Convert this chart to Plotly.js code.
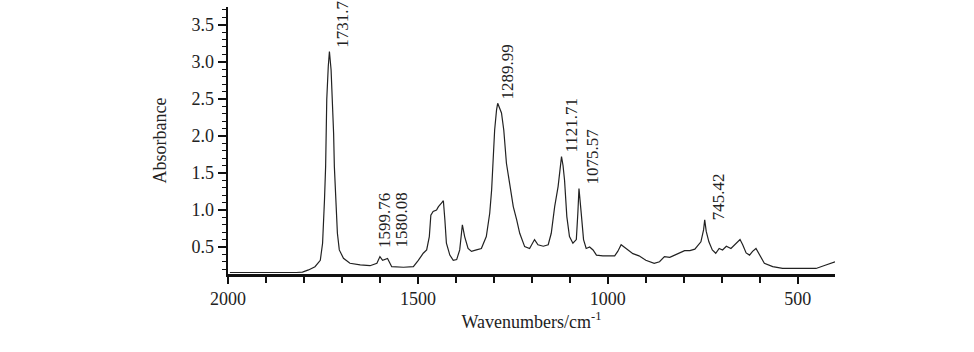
<!DOCTYPE html>
<html>
<head>
<meta charset="utf-8">
<script src="https://cdn.plot.ly/plotly-3.0.1.min.js"></script>
<style>html,body{margin:0;padding:0;background:#fff;}#chart{width:974px;height:352px;}</style>
</head>
<body>
<div id="chart"></div>
<script>
// Wavenumbers (cm^-1) and absorbance
const wavenumbers = [1995,1950,1900,1850,1820,1804,1788,1771,1757,1751,1749,1746,1743,1742,1740,1736,1733,1728.6,1725,1722,1720,1716,1712,1707,1696,1679,1652,1626,1608,1600,1593,1580,1569,1538,1512,1499,1486,1477,1470,1466,1460,1451,1446,1437,1433,1429,1425,1416,1407,1398,1390,1383,1377,1368,1359,1346,1333,1320,1311,1306,1302,1298,1293,1290,1280,1274,1267,1258,1249,1240,1232,1219,1206,1193,1184,1170,1157,1149,1140,1131,1122,1118,1114,1108,1101,1092,1083,1079,1076,1070,1064,1057,1048,1039,1030,1013,982,974,965,952,934,918,900,878,864,851,837,824,811,798,784,771,755,748,745,741,734,725,716,707,698,688,676,663,652,645,636,627,619,610,601,588,566,540,497,452,426,402];
const absorbance = [0.155,0.153,0.153,0.153,0.155,0.16,0.19,0.234,0.32,0.55,0.73,1.135,1.585,2.04,2.49,2.94,3.14,2.89,2.49,2.04,1.585,1.135,0.685,0.46,0.347,0.28,0.257,0.247,0.28,0.37,0.32,0.345,0.234,0.226,0.234,0.32,0.415,0.46,0.64,0.93,0.98,1.0,1.045,1.1,1.125,0.865,0.55,0.39,0.32,0.33,0.46,0.8,0.64,0.48,0.44,0.46,0.48,0.64,0.955,1.27,1.63,2.08,2.35,2.44,2.31,2.08,1.63,1.315,1.045,0.865,0.685,0.505,0.48,0.6,0.53,0.51,0.53,0.685,1.045,1.315,1.72,1.6,1.4,0.91,0.64,0.55,0.6,0.955,1.29,0.95,0.6,0.48,0.5,0.46,0.39,0.38,0.38,0.44,0.53,0.48,0.41,0.38,0.32,0.28,0.3,0.37,0.36,0.39,0.415,0.45,0.45,0.47,0.57,0.73,0.865,0.71,0.57,0.46,0.415,0.48,0.46,0.51,0.48,0.55,0.6,0.53,0.42,0.39,0.44,0.48,0.39,0.28,0.234,0.21,0.21,0.21,0.257,0.3];

// Peak labels
const peakLabels = ["1731.7","1599.76","1580.08","1289.99","1121.71","1075.57","745.42"];
const peakX = [1732,1600,1580,1290,1122,1076,745];
const peakY = [3.14,0.37,0.345,2.44,1.72,1.29,0.865];

// label pixel offsets (style)
const labelShiftX = [13,4,14,10,10,13,14];
const labelShiftY = [2,7,9,2,2,2,-2];

const FONT = "Liberation Serif, Times New Roman, serif";

const trace = {
  x: wavenumbers, y: absorbance, type: 'scatter', mode: 'lines',
  line: {color: '#222', width: 1.2}, hoverinfo: 'skip'
};

const annotations = peakLabels.map((t, i) => ({
  x: peakX[i], y: peakY[i], xref: 'x', yref: 'y', text: t,
  showarrow: false, textangle: -90, xanchor: 'center', yanchor: 'bottom',
  xshift: labelShiftX[i], yshift: labelShiftY[i],
  font: {family: FONT, size: 17, color: '#222'}
}));

const layout = {
  width: 974, height: 352,
  margin: {l: 228, r: 139, t: 7, b: 78, pad: 0},
  paper_bgcolor: '#fff', plot_bgcolor: '#fff',
  showlegend: false,
  font: {family: FONT, color: '#222', size: 17},
  xaxis: {
    range: [2000, 402], showgrid: false, zeroline: false,
    showline: true, linecolor: '#111', linewidth: 2.5,
    ticks: 'outside', ticklen: 7, tickwidth: 1.5, tickcolor: '#111',
    tick0: 0, dtick: 500,
    minor: {ticks: 'outside', dtick: 100, ticklen: 6, tickwidth: 1.5, tickcolor: '#111', showgrid: false},
    tickfont: {family: FONT, size: 18, color: '#222'},
    title: {text: 'Wavenumbers/cm<sup>-1</sup>', font: {family: FONT, size: 18, color: '#222'}, standoff: 2}
  },
  yaxis: {
    range: [0.135, 3.74], showgrid: false, zeroline: false,
    showline: true, linecolor: '#111', linewidth: 2.5,
    ticks: 'outside', ticklen: 8, tickwidth: 1.5, tickcolor: '#111',
    tick0: 0, dtick: 0.5, tickformat: '.1f',
    minor: {ticks: 'outside', dtick: 0.1, ticklen: 4, tickwidth: 1, tickcolor: '#111', showgrid: false},
    tickfont: {family: FONT, size: 18, color: '#222'},
    title: {text: 'Absorbance', font: {family: FONT, size: 18, color: '#222'}, standoff: 20}
  },
  annotations: annotations
};

Plotly.newPlot('chart', [trace], layout, {displayModeBar: false, staticPlot: true});
</script>
</body>
</html>
